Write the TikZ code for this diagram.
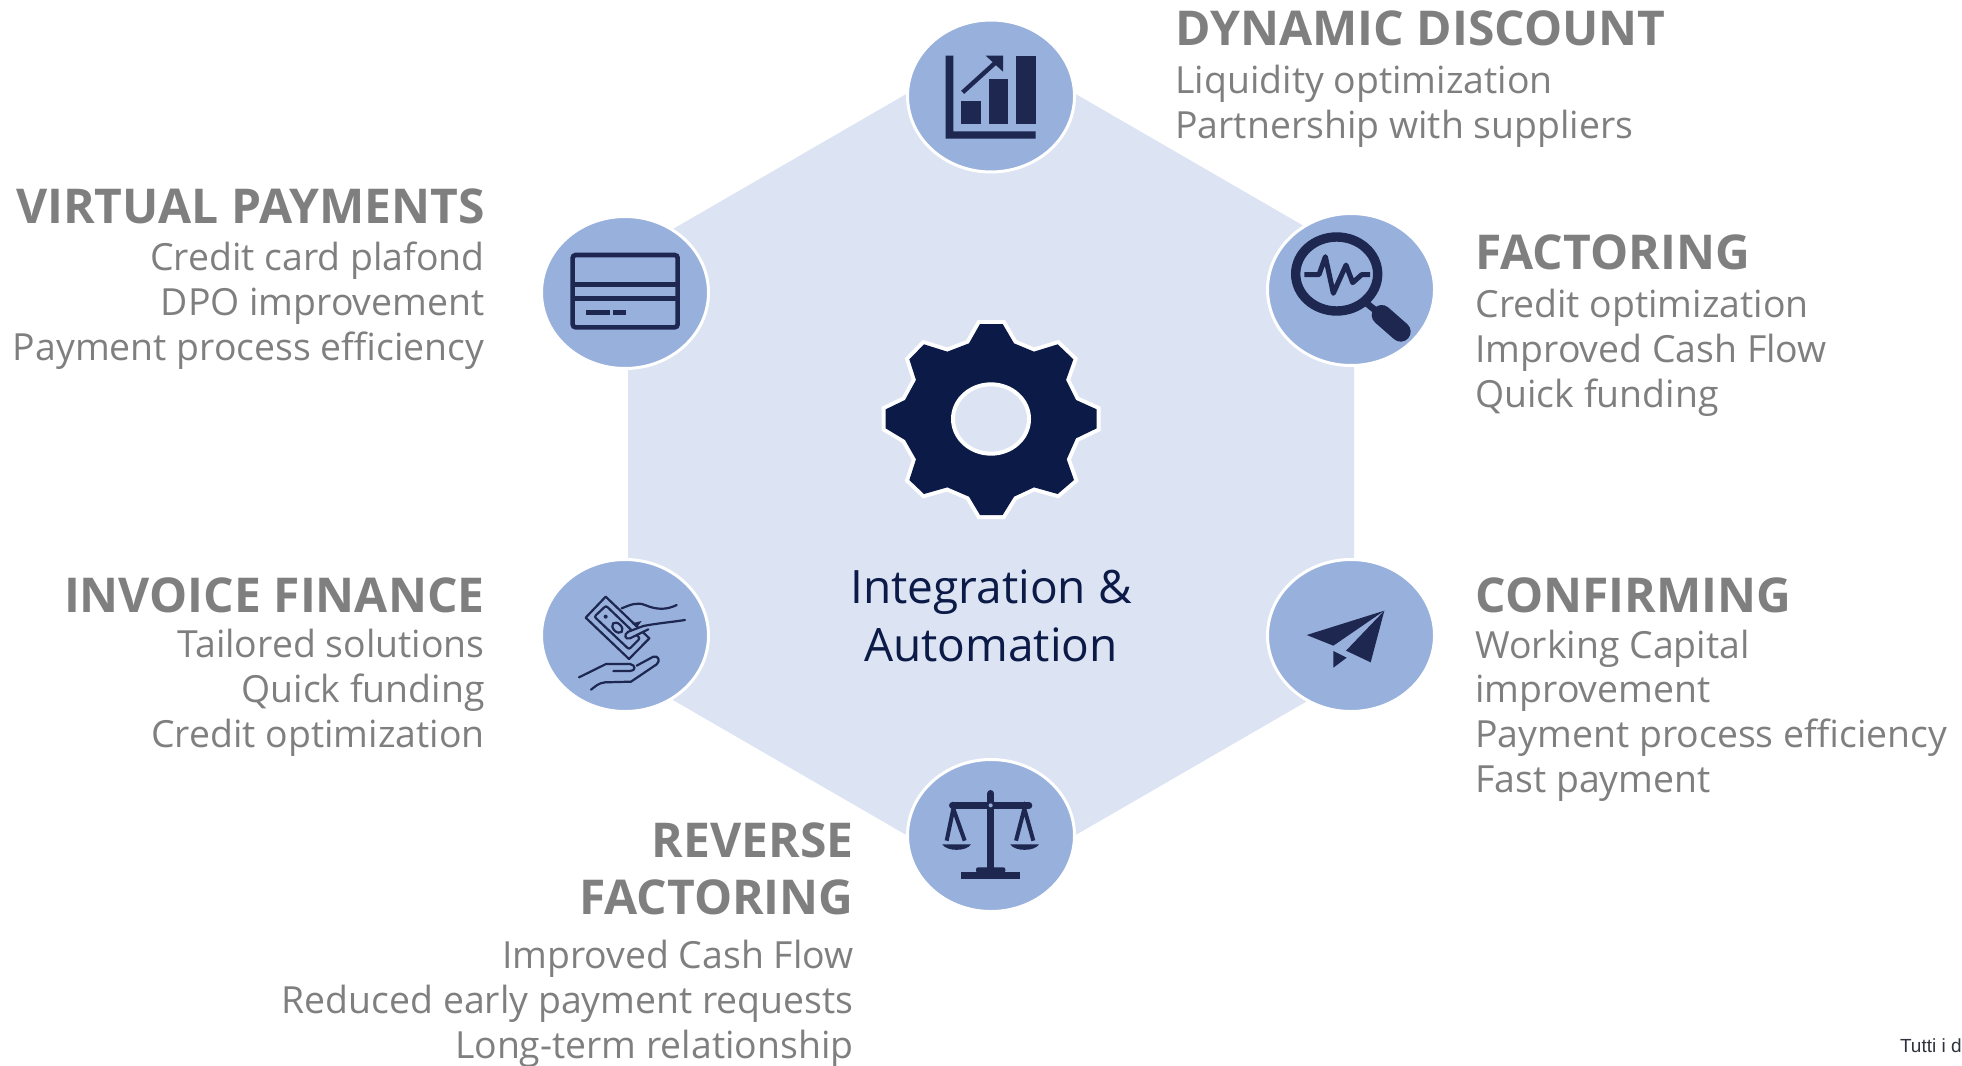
\documentclass[tikz,border=0pt]{standalone}
\usepackage{fontspec}
\setmainfont{Open Sans}
\newfontfamily\notefont{Liberation Sans}
\definecolor{hexBlue}{RGB}{220,227,242}
\definecolor{badgeBlue}{RGB}{152,176,220}
\definecolor{iconNavy}{RGB}{29,39,80}
\definecolor{gearNavy}{RGB}{11,26,71}
\definecolor{textGray}{RGB}{127,127,127}
\definecolor{noteGray}{RGB}{45,50,60}
\tikzset{
  headtxt/.style={inner sep=0pt, text=textGray, font={\fontsize{24}{28.5}\selectfont\bfseries}},
  bodytxt/.style={inner sep=0pt, text=textGray, font={\fontsize{18.7}{22.4}\selectfont}},
  icon/.style={scale=0.33333},
}
\begin{document}
\begin{tikzpicture}[x=0.5pt, y=-0.5pt]
    \useasboundingbox (0,0) rectangle (1962,1065);

    % hexagon
    \fill[hexBlue] (991,45) -- (1354,255) -- (1354,674) -- (991,884) -- (628,674) -- (628,255) -- cycle;

    % badges
    \foreach \cx/\cy in {991/96, 1351/289.5, 625/292.5, 625/635.5, 1351/635.5, 991/835.5}
        \draw[draw=white, line width=1.5pt, fill=badgeBlue] (\cx,\cy) ellipse [x radius=83.5, y radius=76];

    % gear
    \begin{scope}[shift={(870,300)}, icon]
        \fill[gearNavy, preaction={draw=white, line width=4pt}] (330,72) -- (398,72) -- (432,130) -- (492,155) -- (563,133) -- (610,178) -- (588,240) -- (618,300) -- (680,328) -- (680,385) -- (618,415) -- (590,478) -- (612,540) -- (563,582) -- (492,562) -- (432,590) -- (398,645) -- (330,645) -- (297,590) -- (232,562) -- (162,582) -- (118,540) -- (138,478) -- (105,420) -- (47,385) -- (47,328) -- (105,300) -- (138,240) -- (118,178) -- (162,133) -- (232,155) -- (297,130) -- cycle;
        \draw[draw=white, line width=2pt, fill=hexBlue] (363,357) ellipse [x radius=114, y radius=104];
    \end{scope}

    % chart
    \begin{scope}[shift={(880,0)}, icon]
        \fill[iconNavy] (197,167) -- (220,167) -- (220,394) -- (467,394) -- (467,416) -- (197,416) -- cycle;
        \fill[iconNavy] (244,302) rectangle (303,373);
        \fill[iconNavy] (326,238) rectangle (385,373);
        \fill[iconNavy] (408,167) rectangle (467,373);
        \draw[iconNavy, line width=2.2pt] (248,277) -- (355,180);
        \fill[iconNavy] (317,167) -- (369,167) -- (369,215) -- cycle;
    \end{scope}

    % magnifier
    \begin{scope}[shift={(1250,200)}, icon]
        \draw[iconNavy, line width=4.7pt] (260,222) ellipse [x radius=123, y radius=111];
        \draw[iconNavy, line width=3.3pt] (350,310) -- (400,350);
        \draw[iconNavy, line width=10pt, line cap=round] (395,345) -- (452,395);
        \draw[iconNavy, line width=2.5pt, line join=round] (163,224) -- (207,224) -- (226,170) -- (250,280) -- (288,195) -- (308,248) -- (335,224) -- (360,224);
    \end{scope}

    % card
    \begin{scope}[shift={(530,200)}, icon]
        \draw[iconNavy, line width=2.3pt, rounded corners=1.5pt] (128,165) rectangle (443,382);
        \draw[iconNavy, line width=2.3pt] (128,253) -- (443,253);
        \draw[iconNavy, line width=2.3pt] (128,295) -- (443,295);
        \fill[iconNavy] (167,329) rectangle (239,344);
        \fill[iconNavy] (250,329) rectangle (289,344);
    \end{scope}

    % hands
    \begin{scope}[shift={(530,545)}, icon]
        \draw[iconNavy, line width=1.1pt, line join=round] (227,155) -- (358,280) -- (297,342) -- (167,218) -- cycle;
        \draw[iconNavy, line width=1.1pt, rounded corners=1pt] (228,182) -- (330,280) -- (297,313) -- (193,215) -- cycle;
        \fill[iconNavy] (227,215) circle [radius=6];
        \draw[iconNavy, line width=1.1pt, rotate around={-45:(262,248)}] (262,248) ellipse [x radius=18, y radius=12];
        \draw[iconNavy, line width=1.1pt, line cap=round] (275,190) .. controls (300,180) and (320,170) .. (345,180) .. controls (380,195) and (410,195) .. (440,180);
        \draw[iconNavy, line width=1.1pt, line cap=round, fill=badgeBlue] (465,225) .. controls (420,232) and (380,235) .. (340,243) -- (295,260) .. controls (280,268) and (285,285) .. (300,280) -- (355,253);
        \fill[iconNavy] (305,235) -- (335,228) -- (320,248) -- cycle;
        \draw[iconNavy, line width=1.1pt, line cap=round, line join=round] (147,397) -- (228,357) -- (300,357) .. controls (318,360) and (318,378) .. (300,378) -- (250,378);
        \draw[iconNavy, line width=1.1pt, line cap=round, line join=round] (320,362) -- (370,335) .. controls (385,330) and (392,348) .. (380,358) -- (303,410) -- (225,412) .. controls (205,414) and (195,425) .. (183,434);
    \end{scope}

    % plane
    \begin{scope}[shift={(1250,545)}, icon]
        \fill[iconNavy] (170,270) -- (403,197) -- (250,302) -- cycle;
        \fill[iconNavy] (403,197) -- (362,352) -- (288,317) -- cycle;
        \fill[iconNavy] (250,318) -- (290,338) -- (250,368) -- cycle;
    \end{scope}

    % scales
    \begin{scope}[shift={(890,750)}, icon]
        \draw[iconNavy, line width=3.3pt, line cap=round] (187,166) -- (417,166);
        \draw[iconNavy, line width=3.3pt, line cap=round] (302,130) -- (302,355);
        \fill[iconNavy] (214,366) rectangle (389,386);
        \fill[iconNavy, rounded corners=1pt] (258,368) rectangle (346,352);
        \draw[iconNavy, line width=2pt] (170,272) -- (190,176) -- (224,272);
        \draw[iconNavy, line width=2pt] (378,272) -- (403,176) -- (430,272);
        \fill[iconNavy] (157,283) .. controls (170,305) and (230,305) .. (243,283) -- cycle;
        \fill[iconNavy] (361,283) .. controls (374,305) and (434,305) .. (447,283) -- cycle;
        \fill[iconNavy] (302,166) circle [radius=15];
        \fill[badgeBlue] (302,166) circle [radius=6];
    \end{scope}

    % centre label
    \node[inner sep=0pt, text=gearNavy, align=center, anchor=base, font={\fontsize{23}{29}\selectfont}] (centre) at (991,661) {Integration \&\\Automation};

    % right column
    \node[headtxt, anchor=base west] (dynHead) at (1175,46) {DYNAMIC DISCOUNT};
    \node[bodytxt, anchor=base west, align=left] (dynBody) at (1175,138) {Liquidity optimization\\Partnership with suppliers};
    \node[headtxt, anchor=base west] (facHead) at (1475,269) {FACTORING};
    \node[bodytxt, anchor=base west, align=left] (facBody) at (1475,407.5) {Credit optimization\\Improved Cash Flow\\Quick funding};
    \node[headtxt, anchor=base west] (confHead) at (1475,612) {CONFIRMING};
    \node[bodytxt, anchor=base west, align=left] (confBody) at (1475,792.5) {Working Capital\\improvement\\Payment process efficiency\\Fast payment};

    % left column
    \node[headtxt, anchor=base east] (virtHead) at (485,223) {VIRTUAL PAYMENTS};
    \node[bodytxt, anchor=base east, align=right] (virtBody) at (485,360.5) {Credit card plafond\\DPO improvement\\Payment process efficiency};
    \node[headtxt, anchor=base east] (invHead) at (485,612) {INVOICE FINANCE};
    \node[bodytxt, anchor=base east, align=right] (invBody) at (485,747.5) {Tailored solutions\\Quick funding\\Credit optimization};
    \node[headtxt, anchor=base east, align=right] (revHead) at (854,914) {REVERSE\\FACTORING};
    \node[bodytxt, anchor=base east, align=right] (revBody) at (854,1058.5) {Improved Cash Flow\\Reduced early payment requests\\Long-term relationship};

    \node[inner sep=0pt, anchor=base east, text=noteGray, font={\notefont\fontsize{9.5}{12}\selectfont}] (note) at (1962,1052) {Tutti i d};
\end{tikzpicture}
\end{document}
